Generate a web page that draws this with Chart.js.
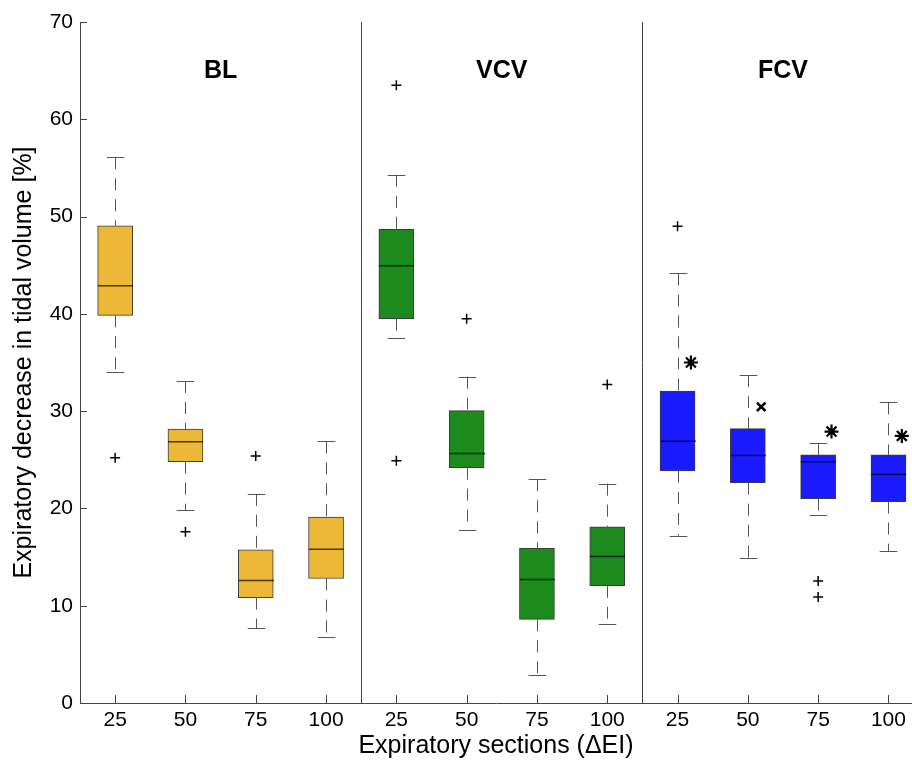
<!DOCTYPE html>
<html>
<head>
<meta charset="utf-8">
<title>Expiratory decrease in tidal volume</title>
<script src="https://cdn.jsdelivr.net/npm/chart.js@4/dist/chart.umd.min.js"></script>
<style>
    html, body { margin: 0; padding: 0; background: #fff; overflow: hidden; }
    #wrap { width: 912px; height: 768px; }
</style>
</head>
<body>
<div id="wrap"><canvas id="chart" width="912" height="768"></canvas></div>
<script>
// Groups and sections (x categories, 4 sections per group)
const groups = ['BL', 'VCV', 'FCV'];
const sections = ['25', '50', '75', '100'];
const groupColors = ['#EDB837', '#1C8A1C', '#1A1AFF'];

// Box statistics, one entry per box (BL 25..100, VCV 25..100, FCV 25..100)
const whiskerLow  = [34.0, 19.8,  7.7,  6.8, 37.55, 17.8,  2.85,  8.15, 17.2, 14.95, 19.3, 15.6];
const quartile1   = [39.85, 24.8, 10.83, 12.8, 39.5, 24.2,  8.6, 12.05, 23.85, 22.65, 21.0, 20.7];
const medians     = [42.9, 26.85, 12.6, 15.8, 44.95, 25.65, 12.7, 15.05, 26.9, 25.45, 24.8, 23.5];
const quartile3   = [49.05, 28.15, 15.75, 19.1, 48.7, 30.05, 15.9, 18.1, 32.05, 28.2, 25.5, 25.5];
const whiskerHigh = [56.1, 33.1, 21.5, 26.9, 54.3, 33.55, 23.0, 22.55, 44.15, 33.7, 26.75, 30.9];

// Outliers: [box number, value]
const outliers = [
    [1, 25.2], [2, 17.6], [3, 25.4],
    [5, 63.5], [5, 24.9], [6, 39.5], [8, 32.75],
    [9, 49.0], [11, 12.55], [11, 10.9]
];

// Significance markers next to the FCV boxes: [box number, value]
const starMarks = [[9, 35.0], [11, 27.9], [12, 27.45]];
const crossMarks = [[10, 30.45]];

const yTicks = [0, 10, 20, 30, 40, 50, 60, 70];
const fontFamily = '"Liberation Sans", Arial, sans-serif';

const boxColors = medians.map((_, i) => groupColors[Math.floor(i / 4)]);
const markOffset = 0.19;

// Whiskers, medians, inner ticks, group separators and labels
const boxExtras = {
    id: 'boxExtras',
    afterDatasetsDraw(chart) {
        const ctx = chart.ctx;
        const x = chart.scales.x;
        const y = chart.scales.y;
        const area = chart.chartArea;
        const half = x.getPixelForValue(1.25) - x.getPixelForValue(1);

        ctx.save();
        medians.forEach((m, i) => {
            const cx = Math.round(x.getPixelForValue(i + 1)) + 0.5;
            // dashed whiskers
            ctx.strokeStyle = '#555';
            ctx.lineWidth = 1;
            ctx.setLineDash([12, 9]);
            ctx.beginPath();
            ctx.moveTo(cx, y.getPixelForValue(whiskerHigh[i]));
            ctx.lineTo(cx, y.getPixelForValue(quartile3[i]));
            ctx.moveTo(cx, y.getPixelForValue(quartile1[i]));
            ctx.lineTo(cx, y.getPixelForValue(whiskerLow[i]));
            ctx.stroke();
            // caps
            ctx.setLineDash([]);
            ctx.beginPath();
            [whiskerHigh[i], whiskerLow[i]].forEach(v => {
                const py = Math.round(y.getPixelForValue(v)) + 0.5;
                ctx.moveTo(cx - half / 2, py);
                ctx.lineTo(cx + half / 2, py);
            });
            ctx.stroke();
            // median
            ctx.strokeStyle = 'rgba(0,0,0,0.7)';
            ctx.lineWidth = 1.5;
            ctx.beginPath();
            const my = y.getPixelForValue(m);
            ctx.moveTo(cx - half, my);
            ctx.lineTo(cx + half, my);
            ctx.stroke();
        });

        // group separators
        ctx.strokeStyle = '#444';
        ctx.lineWidth = 1;
        ctx.beginPath();
        [4.5, 8.5].forEach(v => {
            const px = Math.round(x.getPixelForValue(v)) + 0.5;
            ctx.moveTo(px, area.top);
            ctx.lineTo(px, area.bottom);
        });
        // inner ticks
        yTicks.forEach(v => {
            const py = Math.round(y.getPixelForValue(v)) + 0.5;
            ctx.moveTo(area.left, py);
            ctx.lineTo(area.left + 7, py);
        });
        medians.forEach((_, i) => {
            const px = Math.round(x.getPixelForValue(i + 1)) + 0.5;
            ctx.moveTo(px, area.bottom);
            ctx.lineTo(px, area.bottom - 8);
        });
        ctx.stroke();

        // group labels
        ctx.fillStyle = '#000';
        ctx.font = 'bold 25px ' + fontFamily;
        ctx.textAlign = 'center';
        ctx.textBaseline = 'middle';
        groups.forEach((g, k) => {
            ctx.fillText(g, x.getPixelForValue(2.5 + 4 * k), y.getPixelForValue(65));
        });
        ctx.restore();
    }
};

new Chart(document.getElementById('chart'), {
    type: 'bar',
    data: {
        datasets: [
            {
                type: 'bar',
                data: medians.map((_, i) => ({ x: i + 1, y: [quartile1[i], quartile3[i]] })),
                backgroundColor: boxColors,
                borderColor: '#3a3a3a',
                borderWidth: 1,
                borderSkipped: false,
                barThickness: 35,
                order: 2
            },
            {
                type: 'scatter',
                data: outliers.map(o => ({ x: o[0], y: o[1] })),
                pointStyle: 'cross',
                radius: 5,
                borderColor: '#000',
                borderWidth: 1.5,
                order: 1
            },
            {
                type: 'scatter',
                data: starMarks.map(o => ({ x: o[0] + markOffset, y: o[1] })),
                pointStyle: 'star',
                radius: 7,
                borderColor: '#000',
                borderWidth: 2.2,
                order: 1
            },
            {
                type: 'scatter',
                data: crossMarks.map(o => ({ x: o[0] + markOffset, y: o[1] })),
                pointStyle: 'crossRot',
                radius: 6,
                borderColor: '#000',
                borderWidth: 2.5,
                order: 1
            }
        ]
    },
    options: {
        responsive: false,
        animation: false,
        layout: { autoPadding: false, padding: { top: 22, left: 0, right: 0, bottom: 0 } },
        plugins: {
            legend: { display: false },
            tooltip: { enabled: false }
        },
        scales: {
            x: {
                type: 'linear',
                offset: false,
                min: 0.5,
                max: 12.335,
                afterBuildTicks: (scale) => {
                    scale.ticks = medians.map((_, i) => ({ value: i + 1 }));
                },
                afterFit: (scale) => {
                    scale.height = 65;
                    scale.paddingLeft = 0;
                    scale.paddingRight = 0;
                },
                ticks: {
                    callback: (v) => sections[(v - 1) % 4],
                    color: '#000',
                    padding: 5,
                    maxRotation: 0,
                    autoSkip: false,
                    font: { family: fontFamily, size: 21 }
                },
                grid: { drawOnChartArea: false, drawTicks: false },
                border: { display: true, color: '#444', width: 1 },
                title: {
                    display: true,
                    text: 'Expiratory sections (ΔEI)',
                    color: '#000',
                    padding: { top: 0, bottom: 7 },
                    font: { family: fontFamily, size: 25 }
                }
            },
            y: {
                min: 0,
                max: 70,
                afterBuildTicks: (scale) => {
                    scale.ticks = yTicks.map(v => ({ value: v }));
                },
                afterFit: (scale) => { scale.width = 80; },
                ticks: {
                    color: '#000',
                    padding: 7,
                    font: { family: fontFamily, size: 21 }
                },
                grid: { drawOnChartArea: false, drawTicks: false },
                border: { display: true, color: '#444', width: 1 },
                title: {
                    display: true,
                    text: 'Expiratory decrease in tidal volume [%]',
                    color: '#000',
                    padding: { top: 9, bottom: 0 },
                    font: { family: fontFamily, size: 25 }
                }
            }
        }
    },
    plugins: [boxExtras]
});
</script>
</body>
</html>
